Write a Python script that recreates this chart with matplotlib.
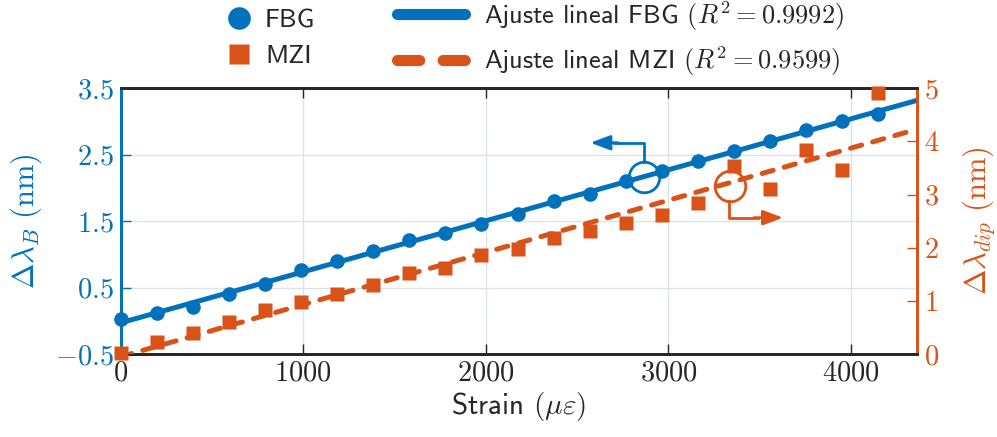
import numpy as np
import matplotlib
matplotlib.use("Agg")
import matplotlib.pyplot as plt
from matplotlib.lines import Line2D

plt.rcParams["mathtext.fontset"] = "cm"
plt.rcParams["font.family"] = ["cmss10", "DejaVu Sans"]
plt.rcParams["axes.unicode_minus"] = True

BLUE = "#0072BD"
ORANGE = "#D95319"
DARK = "#262626"

# Applied strain (micro-strain)
strain = [0, 198, 395, 593, 790, 988, 1186, 1383, 1581, 1778, 1976,
          2174, 2371, 2569, 2767, 2964, 3162, 3359, 3557, 3755, 3952, 4150]
# Bragg wavelength shift of the FBG (nm)
fbg_shift = [0.02, 0.11, 0.21, 0.41, 0.56, 0.76, 0.90, 1.05, 1.21, 1.32, 1.46,
             1.61, 1.81, 1.91, 2.11, 2.26, 2.41, 2.56, 2.71, 2.87, 3.01, 3.11]
# Interference dip shift of the MZI (nm)
mzi_shift = [0.01, 0.22, 0.40, 0.61, 0.82, 0.98, 1.13, 1.30, 1.52, 1.61, 1.86,
             1.97, 2.18, 2.31, 2.46, 2.62, 2.85, 3.54, 3.10, 3.83, 3.46, 4.91]

r2_fbg = "0.9992"
r2_mzi = "0.9599"

x_ticks = [0, 1000, 2000, 3000, 4000]
left_ticks = [-0.5, 0.5, 1.5, 2.5, 3.5]
right_ticks = [0, 1, 2, 3, 4, 5]

x = np.array(strain, dtype=float)
yb = np.array(fbg_shift)
ym = np.array(mzi_shift)
pb = np.polyfit(x, yb, 1)
pm = np.polyfit(x, ym, 1)
xmax = 4360
xf = np.array([0, xmax])

fig = plt.figure(figsize=(9.97, 4.37), dpi=100)
ax = fig.add_axes([0.1211, 0.1899, 0.7984, 0.6081])
ax2 = ax.twinx()

# FBG on the left axis
ax.plot(xf, np.polyval(pb, xf), color=BLUE, lw=3.6, solid_capstyle="butt", zorder=3)
ax.plot(x, yb, "o", color=BLUE, ms=10.5, mec="none", zorder=4, clip_on=False)

# MZI on the right axis
ax2.plot(xf, np.polyval(pm, xf), color=ORANGE, lw=3.6, ls=(0, (2.3, 2.3)),
         dash_capstyle="round", zorder=3)
ax2.plot(x, ym, "s", color=ORANGE, ms=10, mec="none", zorder=4, clip_on=False)

ax.set_xlim(0, xmax)
ax.set_ylim(-0.5, 3.5)
ax2.set_ylim(0, 5)


def tex(v):
    return f"${v}$"


tick_fs = 20.5
ax.set_xticks(x_ticks)
ax.set_xticklabels([tex(t) for t in x_ticks], fontsize=tick_fs, color=DARK)
ax.set_yticks(left_ticks)
ax.set_yticklabels([tex(t) for t in left_ticks], fontsize=tick_fs, color=BLUE)
ax2.set_yticks(right_ticks)
ax2.set_yticklabels([tex(t) for t in right_ticks], fontsize=tick_fs, color=ORANGE)

ax.tick_params(axis="x", direction="in", length=7, width=1, color=DARK, top=True, pad=5)
ax.tick_params(axis="y", direction="in", length=7, width=1, color=BLUE, pad=5)
ax2.tick_params(axis="y", direction="in", length=7, width=1, color=ORANGE, pad=5)

ax.grid(True, color="#dbe3ec", lw=1.0)
ax.set_axisbelow(True)

for a in (ax, ax2):
    a.spines["top"].set_color(DARK)
    a.spines["bottom"].set_color(DARK)
    a.spines["top"].set_linewidth(2)
    a.spines["bottom"].set_linewidth(2)
    a.spines["left"].set_color(BLUE)
    a.spines["left"].set_linewidth(2)
    a.spines["right"].set_color(ORANGE)
    a.spines["right"].set_linewidth(2)

ax.set_xlabel(r"Strain $(\mu\varepsilon)$", fontsize=21, color=DARK, labelpad=3)
ax.set_ylabel(r"$\Delta\lambda_B\ (\mathrm{nm})$", fontsize=22, color=BLUE, labelpad=8)
ax2.set_ylabel(r"$\Delta\lambda_{dip}\ (\mathrm{nm})$", fontsize=22, color=ORANGE,
               rotation=90, labelpad=15)

# Axis indicators: circle on each fit line with an arrow toward its axis
tr = ax.transAxes
arrow_style = "-|>,head_length=1.2,head_width=0.45"
ax.plot([0.657], [0.667], "o", transform=tr, ms=22, mfc="none", mec=BLUE, mew=2, zorder=5,
        clip_on=False)
ax.plot([0.657, 0.657, 0.62], [0.722, 0.795, 0.795], color=BLUE, lw=2, transform=tr, zorder=5)
ax.annotate("", xy=(0.590, 0.795), xytext=(0.625, 0.795), xycoords=tr, textcoords=tr,
            arrowprops=dict(arrowstyle=arrow_style, color=BLUE,
                            lw=2, shrinkA=0, shrinkB=0), zorder=5)
ax.plot([0.765], [0.632], "o", transform=tr, ms=22, mfc="none", mec=ORANGE, mew=2, zorder=5,
        clip_on=False)
ax.plot([0.764, 0.764, 0.80], [0.576, 0.513, 0.513], color=ORANGE, lw=2, transform=tr, zorder=5)
ax.annotate("", xy=(0.832, 0.513), xytext=(0.795, 0.513), xycoords=tr, textcoords=tr,
            arrowprops=dict(arrowstyle=arrow_style, color=ORANGE,
                            lw=2, shrinkA=0, shrinkB=0), zorder=5)

# Legends above the axes
leg_fs = 19
h1 = [Line2D([], [], ls="none", marker="o", ms=16.3, color=BLUE, mec="none"),
      Line2D([], [], ls="none", marker="s", ms=14.4, color=ORANGE, mec="none")]
leg1 = fig.legend(h1, ["FBG", "MZI"], loc="center left", bbox_to_anchor=(0.2242, 0.912),
                  frameon=False, fontsize=leg_fs, handlelength=1.17, handletextpad=0.4,
                  labelspacing=0.45, borderaxespad=0, borderpad=0)
for t in leg1.get_texts():
    t.set_color(DARK)
h2 = [Line2D([], [], color=BLUE, lw=8, solid_capstyle="round"),
      Line2D([], [], color=ORANGE, lw=8, ls=(0, (2.0, 2.1)), dash_capstyle="round")]
leg2 = fig.legend(h2, [rf"Ajuste lineal FBG $(R^2 = {r2_fbg})$",
                       rf"Ajuste lineal MZI $(R^2 = {r2_mzi})$"],
                  loc="center left", bbox_to_anchor=(0.3977, 0.912), frameon=False,
                  fontsize=leg_fs, handlelength=2.6, handletextpad=0.72,
                  labelspacing=0.45, borderaxespad=0, borderpad=0)
for t in leg2.get_texts():
    t.set_color(DARK)

fig.savefig("out.png", dpi=100)
